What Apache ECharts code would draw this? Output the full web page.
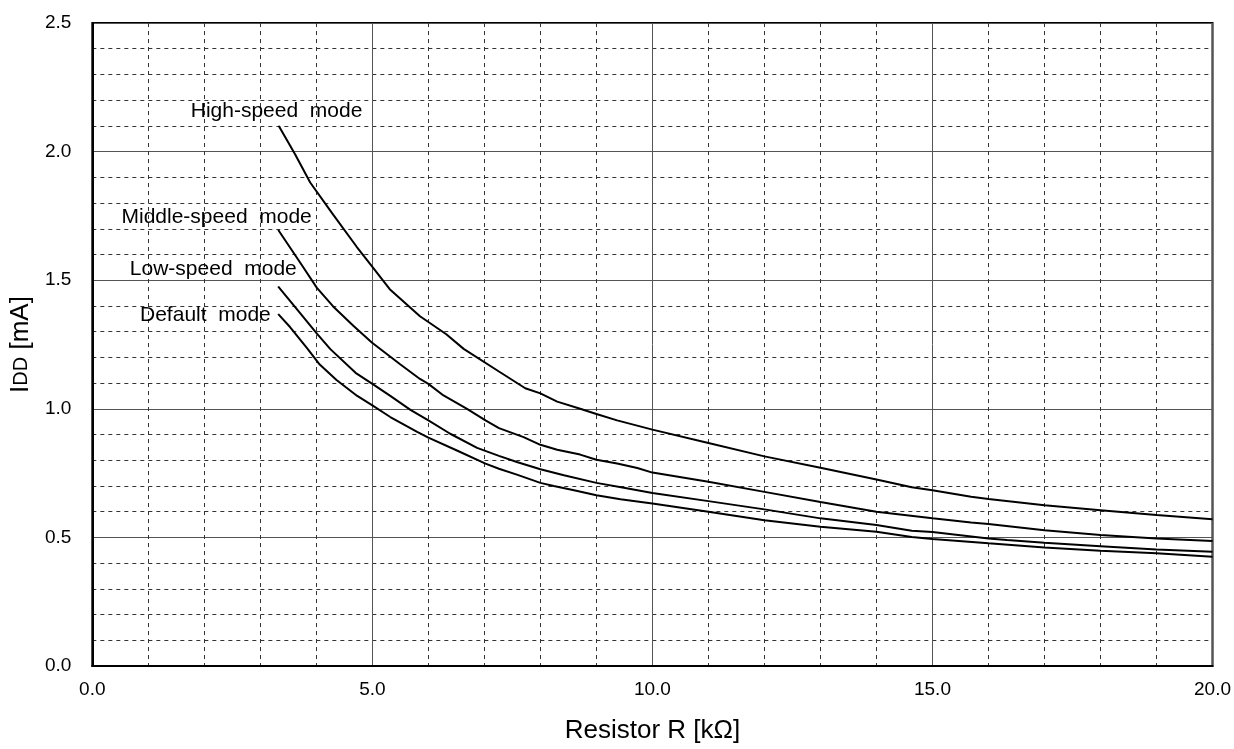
<!DOCTYPE html>
<html>
<head>
<meta charset="utf-8">
<script src="https://cdn.jsdelivr.net/npm/echarts@6/dist/echarts.min.js"></script>
<style>
    html, body { margin: 0; padding: 0; background: #fff; }
    #chart { width: 1234px; height: 749px; }
</style>
</head>
<body>
<div id="chart"></div>
<script>
// 各モードの曲線データ（抵抗 R [kΩ] / 電流 IDD [mA]）
const highR = [3.33, 3.62, 3.89, 4.30, 4.72, 4.99, 5.31, 5.85, 6.32, 6.63, 7.26, 7.73, 8.0, 8.30, 8.71, 9.0, 9.37, 10.0, 11, 12, 13, 14, 14.63, 15, 15.69, 16, 17, 18, 19, 20];
const highI = [2.10, 1.99, 1.88, 1.755, 1.63, 1.555, 1.465, 1.36, 1.29, 1.233, 1.145, 1.08, 1.06, 1.028, 1.0, 0.98, 0.955, 0.919, 0.867, 0.815, 0.771, 0.725, 0.695, 0.683, 0.658, 0.649, 0.625, 0.606, 0.587, 0.571];

const middleR = [3.32, 3.71, 4.01, 4.30, 4.66, 4.99, 5.49, 5.85, 6.0, 6.27, 6.69, 7.02, 7.26, 7.70, 8.0, 8.30, 8.71, 9.0, 9.37, 9.73, 10, 11, 12, 13, 14, 15, 15.69, 16, 17, 18, 19, 20];
const middleI = [1.695, 1.569, 1.470, 1.398, 1.323, 1.258, 1.174, 1.116, 1.097, 1.052, 1.0, 0.955, 0.925, 0.89, 0.86, 0.841, 0.822, 0.802, 0.787, 0.77, 0.752, 0.716, 0.677, 0.638, 0.60, 0.574, 0.558, 0.552, 0.528, 0.509, 0.496, 0.486];

const lowR = [3.32, 3.71, 4.01, 4.25, 4.70, 5.0, 5.32, 5.68, 6.0, 6.39, 6.87, 7.26, 7.58, 8.0, 8.42, 9.0, 9.49, 10, 11, 12, 13, 14, 14.63, 15, 16, 16.33, 17, 18, 19, 20];
const lowI = [1.475, 1.372, 1.292, 1.232, 1.140, 1.097, 1.050, 0.996, 0.955, 0.903, 0.848, 0.817, 0.793, 0.765, 0.742, 0.712, 0.693, 0.673, 0.641, 0.609, 0.574, 0.548, 0.526, 0.521, 0.496, 0.49, 0.479, 0.466, 0.453, 0.444];

const defaultR = [3.32, 3.53, 3.83, 4.06, 4.36, 4.73, 5.0, 5.32, 5.80, 6.0, 6.51, 7.02, 7.26, 7.58, 8.0, 8.24, 8.60, 9.0, 9.43, 9.73, 10, 11, 12, 13, 14, 14.63, 15, 16, 17, 18, 19, 20];
const defaultI = [1.368, 1.318, 1.237, 1.172, 1.112, 1.050, 1.013, 0.968, 0.91, 0.888, 0.838, 0.787, 0.767, 0.744, 0.712, 0.700, 0.683, 0.664, 0.648, 0.640, 0.632, 0.60, 0.567, 0.541, 0.522, 0.502, 0.494, 0.477, 0.461, 0.448, 0.438, 0.425];

const modeNames = ['High-speed  mode', 'Middle-speed  mode', 'Low-speed  mode', 'Default  mode'];

const FONT = '"Liberation Sans", Arial, sans-serif';

// 曲線の始点にモード名を置く（offset は見た目合わせ）
function buildSeries(name, xs, ys, labelOffset) {
    const data = xs.map((x, i) => [x, ys[i]]);
    data[0] = {
        value: data[0],
        symbol: 'circle',
        symbolSize: 1,
        label: {
            show: true,
            position: 'left',
            distance: 5,
            offset: labelOffset,
            formatter: name,
            color: '#000',
            fontFamily: FONT,
            fontSize: 21
        }
    };
    return {
        name: name,
        type: 'line',
        data: data,
        symbol: 'none',
        showSymbol: true,
        showAllSymbol: true,
        smooth: false,
        silent: true,
        itemStyle: { color: '#000' },
        lineStyle: { color: '#000', width: 2 }
    };
}

const chart = echarts.init(document.getElementById('chart'));

const axisCommon = {
    type: 'value',
    axisLine: { show: true, lineStyle: { color: '#000', width: 2 } },
    axisTick: { show: false },
    minorTick: { show: false, splitNumber: 5 },
    splitLine: { show: true, lineStyle: { color: '#555', width: 1 } },
    minorSplitLine: { show: true, lineStyle: { color: '#333', width: 1, type: [4, 4] } },
    axisLabel: {
        color: '#000',
        fontFamily: FONT,
        fontSize: 19,
        formatter: v => v.toFixed(1)
    },
    nameTextStyle: { color: '#000', fontFamily: FONT, fontSize: 26 }
};

const option = {
    animation: false,
    backgroundColor: '#fff',
    grid: {
        left: 92,
        right: 20,
        top: 23,
        bottom: 81,
        show: true,
        borderColor: '#000',
        borderWidth: 2
    },
    xAxis: Object.assign({}, axisCommon, {
        min: 0,
        max: 20,
        interval: 5,
        name: 'Resistor R [kΩ]',
        nameLocation: 'middle',
        nameGap: 52,
        axisLabel: Object.assign({}, axisCommon.axisLabel, { margin: 14 })
    }),
    yAxis: Object.assign({}, axisCommon, {
        min: 0,
        max: 2.5,
        interval: 0.5,
        name: '{i|I}{s|DD}{i| [mA]}',
        nameLocation: 'middle',
        nameGap: 58,
        nameTextStyle: {
            color: '#000',
            fontFamily: FONT,
            fontSize: 26,
            rich: {
                i: { fontFamily: FONT, fontSize: 26, color: '#000' },
                s: { fontFamily: FONT, fontSize: 20, color: '#000' }
            }
        },
        axisLabel: Object.assign({}, axisCommon.axisLabel, { margin: 21 })
    }),
    series: [
        buildSeries(modeNames[0], highR, highI, [89, -15]),
        buildSeries(modeNames[1], middleR, middleI, [39, -13]),
        buildSeries(modeNames[2], lowR, lowI, [24, -17]),
        buildSeries(modeNames[3], defaultR, defaultI, [-2, 1])
    ]
};

chart.setOption(option);
</script>
</body>
</html>
